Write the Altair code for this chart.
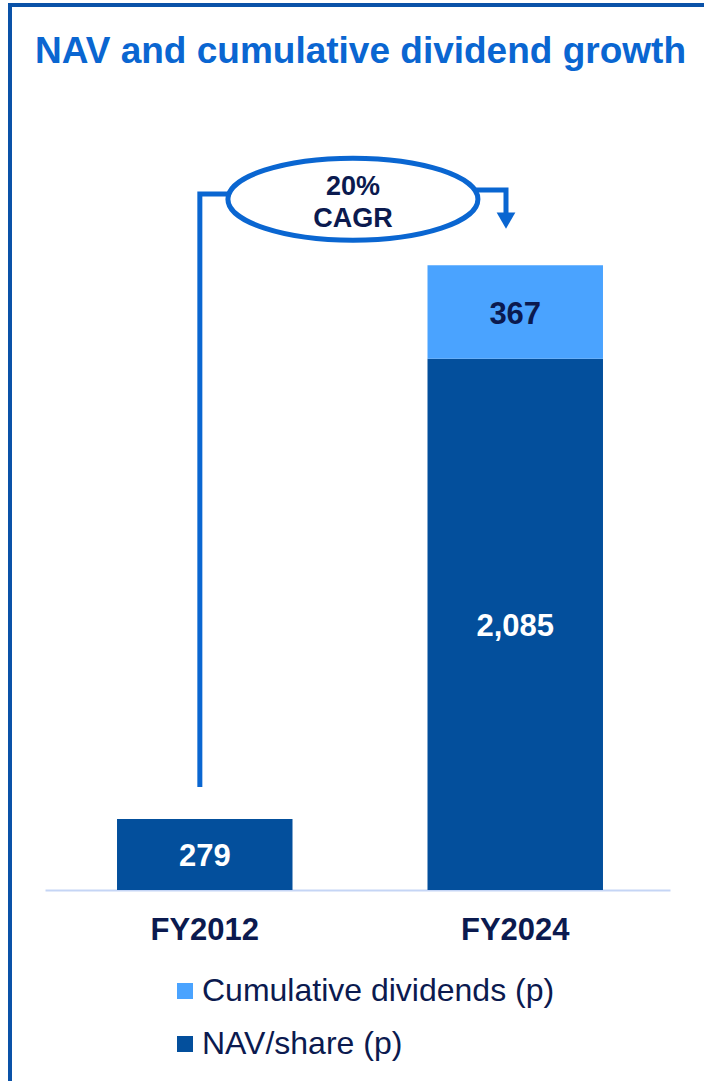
import altair as alt
import pandas as pd

# ---------------- data ----------------
years = ["FY2012", "FY2024"]
nav_share = [279, 2085]
cum_dividends = [None, 367]
series_names = ["Cumulative dividends (p)", "NAV/share (p)"]
series_colors = ["#4aa3ff", "#034f9c"]
title_text = ["NAV and cumulative dividend growth"]
cagr_label = ["20%", "CAGR"]

# CAGR bracket annotation: y in value units, x in category units (0 = FY2012, 1 = FY2024)
bracket_id = ["left", "left", "left", "right", "right", "right"]
bracket_x = [-0.015, -0.015, 0.085, 0.874, 0.971, 0.971]
bracket_y = [404, 2731, 2731, 2747, 2747, 2657]
ellipse_x = [0.478]
ellipse_y = [2711]
arrow_x = [0.971]
arrow_y = [2627]

# ---------------- styles ----------------
FONT = "Liberation Sans"
NAVY = "#0b1a4f"
BRIGHT = "#0a66d1"
BORDER = "#0a52a8"
Y_DOMAIN = [0, 3100]

rows = []
for i, yr in enumerate(years):
    rows.append({"year": yr, "series": series_names[1], "value": nav_share[i], "order": 0})
    if cum_dividends[i]:
        rows.append({"year": yr, "series": series_names[0], "value": cum_dividends[i], "order": 1})
bars_df = pd.DataFrame(rows)

band = alt.Scale(domain=years, paddingInner=0.4348, paddingOuter=0.2239, align=0.518)
yscale = alt.Scale(domain=Y_DOMAIN, nice=False, zero=True)

base = alt.Chart(bars_df)

bars = base.mark_bar().encode(
    x=alt.X("year:N", scale=band, sort=years,
            axis=alt.Axis(title=None, ticks=False, labelAngle=0, labelFontSize=31,
                          labelFont=FONT, labelFontWeight="bold", labelColor=NAVY,
                          labelPadding=25, domainColor="#c5d5f5", domainWidth=2, grid=False)),
    y=alt.Y("value:Q", stack="zero", scale=yscale, axis=None),
    color=alt.Color("series:N", scale=alt.Scale(domain=series_names, range=series_colors),
                    legend=alt.Legend(title=None, orient="none", legendX=124, legendY=875,
                                      symbolType="square", symbolSize=256, symbolStrokeWidth=0,
                                      symbolOpacity=1, labelFontSize=32, labelFont=FONT,
                                      labelColor=NAVY, labelLimit=600, labelOffset=1,
                                      rowPadding=21)),
    order=alt.Order("order:Q", sort="ascending"),
)

labels = base.transform_stack(
    stack="value", groupby=["year"], as_=["v0", "v1"],
    sort=[alt.SortField("order", order="ascending")]
).transform_calculate(mid="(datum.v0 + datum.v1) / 2").mark_text(
    font=FONT, fontSize=31, fontWeight="bold", baseline="middle", align="center", dy=3
).encode(
    x=alt.X("year:N", scale=band, sort=years),
    y=alt.Y("mid:Q", scale=yscale, axis=None),
    text=alt.Text("value:Q", format=","),
    color=alt.condition(f"datum.series == '{series_names[1]}'", alt.value("white"), alt.value(NAVY)),
)

frame_df = pd.DataFrame({"k": [0]})
left_border = alt.Chart(frame_df).mark_rule(color=BORDER, strokeWidth=4).encode(
    x=alt.value(-35), y=alt.value(-97), y2=alt.value(985))
top_border = alt.Chart(frame_df).mark_rule(color=BORDER, strokeWidth=4).encode(
    x=alt.value(-37), x2=alt.value(665), y=alt.value(-95))
title = alt.Chart(pd.DataFrame({"t": title_text})).mark_text(
    font=FONT, fontSize=37, fontWeight="bold", color=BRIGHT, align="left",
    baseline="alphabetic").encode(x=alt.value(-10), y=alt.value(-37), text="t:N")

bar_group = alt.layer(left_border, top_border, title, bars, labels)

# ----- annotation layer -----
xq = alt.Scale(domain=[-0.5137, 1.4992], nice=False, zero=False)
br_df = pd.DataFrame({"path": bracket_id, "x": bracket_x, "y": bracket_y,
                      "idx": list(range(len(bracket_x)))})
bracket = alt.Chart(br_df).mark_line(color=BRIGHT, strokeWidth=5, strokeJoin="miter",
                                     strokeCap="butt").encode(
    x=alt.X("x:Q", scale=xq, axis=None),
    y=alt.Y("y:Q", scale=yscale, axis=None),
    detail="path:N",
    order="idx:Q",
)

ELLIPSE = ("M-1,0C-1,-0.181,-0.552,-0.328,0,-0.328C0.552,-0.328,1,-0.181,1,0"
           "C1,0.181,0.552,0.328,0,0.328C-0.552,0.328,-1,0.181,-1,0Z")
ell_df = pd.DataFrame({"x": ellipse_x, "y": ellipse_y, "t": ["\n".join(cagr_label)]})
ellipse = alt.Chart(ell_df).mark_point(shape=ELLIPSE, size=62500, filled=False,
                                       stroke=BRIGHT, strokeWidth=5, opacity=1).encode(
    x=alt.X("x:Q", scale=xq, axis=None),
    y=alt.Y("y:Q", scale=yscale, axis=None),
)
cagr_text = alt.Chart(ell_df).mark_text(font=FONT, fontSize=27, fontWeight="bold", color=NAVY,
                                        lineBreak="\n", lineHeight=32, baseline="middle",
                                        align="center", dy=-12).encode(
    x=alt.X("x:Q", scale=xq, axis=None),
    y=alt.Y("y:Q", scale=yscale, axis=None),
    text="t:N",
)
arr_df = pd.DataFrame({"x": arrow_x, "y": arrow_y})
arrow = alt.Chart(arr_df).mark_point(shape="triangle-down", size=350, filled=True,
                                     color=BRIGHT, opacity=1).encode(
    x=alt.X("x:Q", scale=xq, axis=None),
    y=alt.Y("y:Q", scale=yscale, axis=None),
)

ann_group = alt.layer(bracket, ellipse, cagr_text, arrow)

chart = alt.layer(bar_group, ann_group).resolve_scale(x="independent").properties(
    width=625, height=790,
    padding={"left": 45, "top": 100, "right": 34, "bottom": 191},
    autosize="none",
).configure(font=FONT, background="white").configure_view(stroke=None)

chart.save("out.html", embed_options={"renderer": "svg", "actions": False})
